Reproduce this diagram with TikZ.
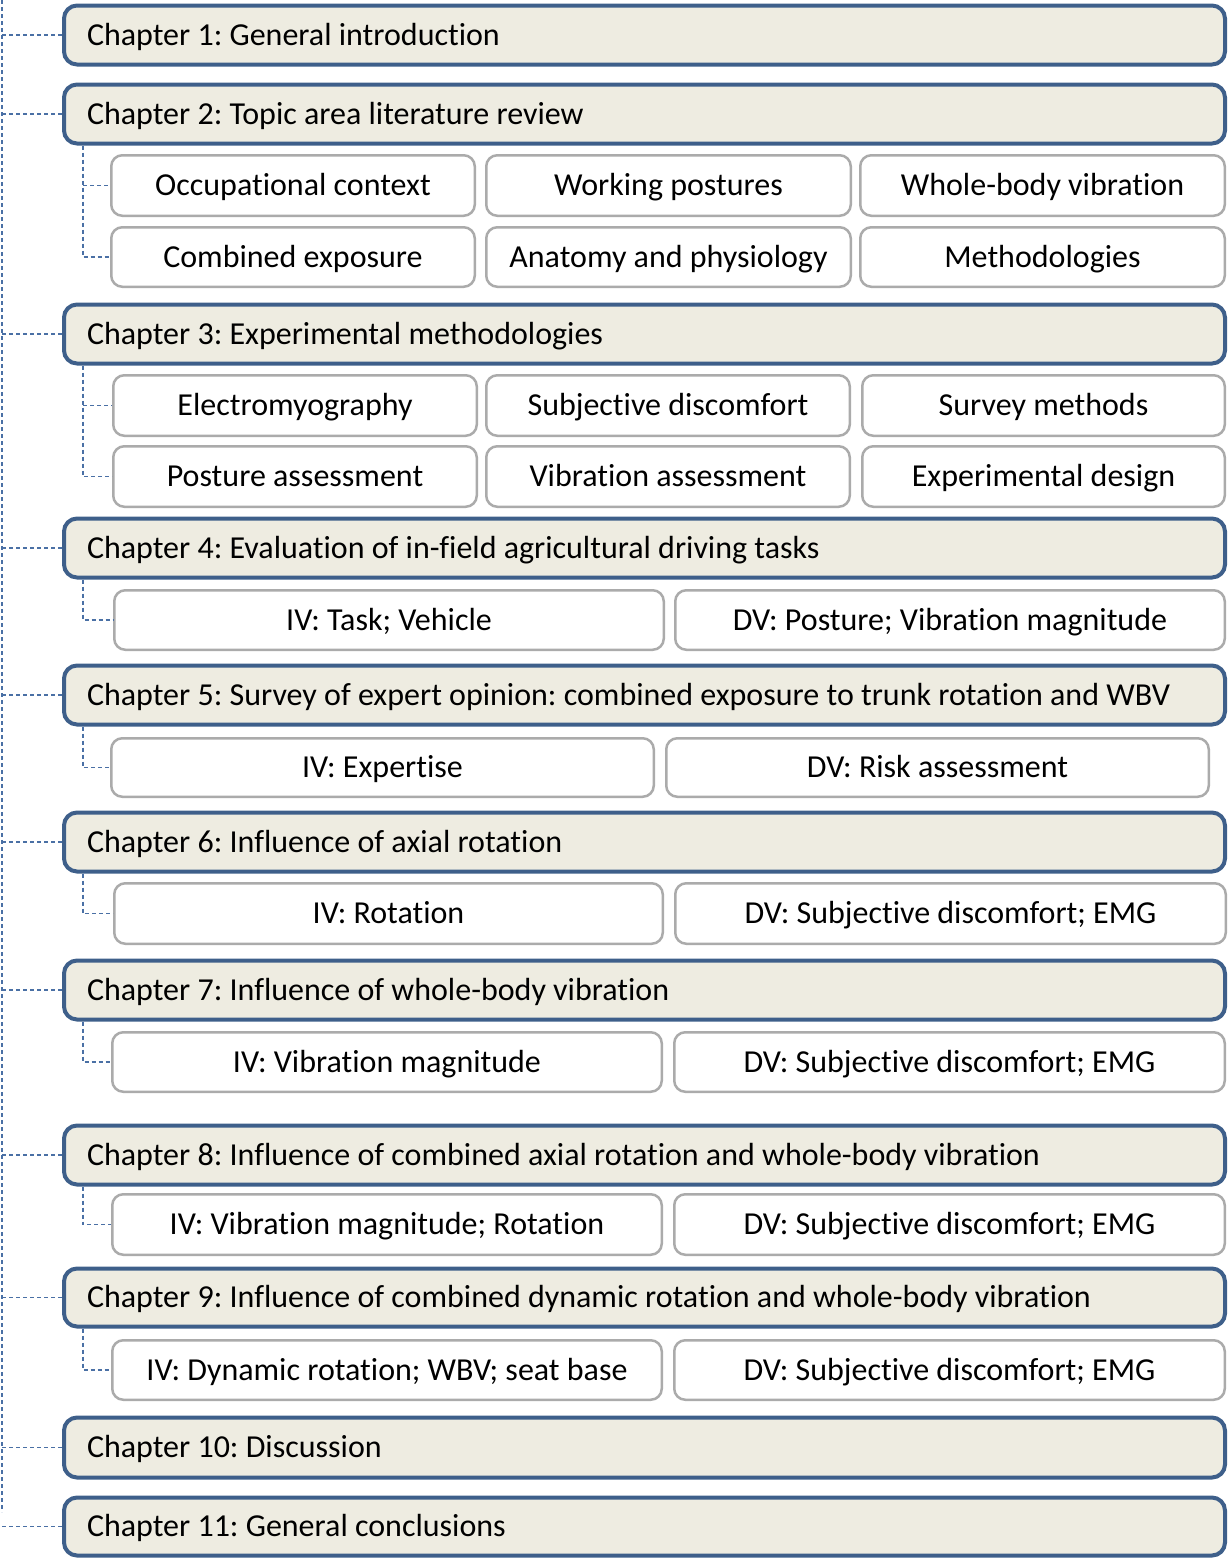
\documentclass[tikz,border=0pt]{standalone}
\usepackage{fontspec}
\setmainfont{Carlito}[RawFeature={-liga}]
\frenchspacing
\definecolor{chapborder}{HTML}{3E5F8A}
\definecolor{chapfill}{HTML}{EEECE1}
\definecolor{subborder}{HTML}{ABABAB}
\definecolor{dashblue}{HTML}{4A70A5}
\tikzset{
  chapbox/.style={draw=chapborder, fill=chapfill, line width=4pt, rounded corners=13pt,
    minimum width=1161pt, inner xsep=23pt,
    text height=20.6pt, text depth=0pt, font=\fontsize{32}{36}\selectfont},
  subbox/.style={draw=subborder, fill=white, line width=2.5pt, rounded corners=11pt,
    align=center, text height=20.6pt, text depth=0pt, inner sep=0pt,
    font=\fontsize{32}{36}\selectfont},
  conn/.style={draw=dashblue, line width=1.25pt, dash pattern=on 4pt off 3pt}
}
\newcommand\chapnode[4]{\node[chapbox, minimum height={(#3-#2-4)*1pt}] (#1) at (644.5,{(#2+#3)/2+0.5}) {\frenchspacing\makebox[1115pt][l]{#4}};}
\newcommand\subnode[6]{\node[subbox, minimum width={(#4-#2-2.5)*1pt}, minimum height={(#5-#3-2.5)*1pt}] (#1) at ({(#2+#4)/2},{(#3+#5)/2}) {\frenchspacing #6};}
\begin{document}
\begin{tikzpicture}[x=1pt,y=-1pt]
\useasboundingbox (0,0) rectangle (1229,1559);
% chapters
\chapnode{c1}{3}{66}{Chapter 1: General introduction}
\chapnode{c2}{82}{145}{Chapter 2: Topic area literature review}
\chapnode{c3}{302}{365}{Chapter 3: Experimental methodologies}
\chapnode{c4}{516}{579}{Chapter 4: Evaluation of in-field agricultural driving tasks}
\chapnode{c5}{663}{726}{Chapter 5: Survey of expert opinion: combined exposure to trunk rotation and WBV}
\chapnode{c6}{810}{873}{Chapter 6: Influence of axial rotation}
\chapnode{c7}{958}{1021}{Chapter 7: Influence of whole-body vibration}
\chapnode{c8}{1123}{1186}{Chapter 8: Influence of combined axial rotation and whole-body vibration}
\chapnode{c9}{1266}{1328}{Chapter 9: Influence of combined dynamic rotation and whole-body vibration}
\chapnode{c10}{1415}{1479}{Chapter 10: Discussion}
\chapnode{c11}{1495}{1557}{Chapter 11: General conclusions}
% chapter 2 subs
\subnode{s2a}{110}{154}{476}{217}{Occupational context}
\subnode{s2b}{485}{154}{852}{217}{Working postures}
\subnode{s2c}{859}{154}{1226}{217}{Whole-body vibration}
\subnode{s2d}{110}{226}{476}{288}{Combined exposure}
\subnode{s2e}{485}{226}{852}{288}{Anatomy and physiology}
\subnode{s2f}{859}{226}{1226}{288}{Methodologies}
% chapter 3 subs
\subnode{s3a}{112}{374}{478}{437}{Electromyography}
\subnode{s3b}{485}{374}{851}{437}{Subjective discomfort}
\subnode{s3c}{861}{374}{1226}{437}{Survey methods}
\subnode{s3d}{112}{445}{478}{508}{Posture assessment}
\subnode{s3e}{485}{445}{851}{508}{Vibration assessment}
\subnode{s3f}{861}{445}{1226}{508}{Experimental design}
% chapter 4-9 subs
\subnode{s4a}{113}{589}{665}{651}{IV: Task; Vehicle}
\subnode{s4b}{674}{589}{1226}{651}{DV: Posture; Vibration magnitude}
\subnode{s5a}{110}{737}{655}{798}{IV: Expertise}
\subnode{s5b}{665}{737}{1210}{798}{DV: Risk assessment}
\subnode{s6a}{113}{882}{664}{945}{IV: Rotation}
\subnode{s6b}{674}{882}{1227}{945}{DV: Subjective discomfort; EMG}
\subnode{s7a}{111}{1031}{663}{1093}{IV: Vibration magnitude}
\subnode{s7b}{673}{1031}{1226}{1093}{DV: Subjective discomfort; EMG}
\subnode{s8a}{111}{1193}{663}{1256}{IV: Vibration magnitude; Rotation}
\subnode{s8b}{673}{1193}{1226}{1256}{DV: Subjective discomfort; EMG}
\subnode{s9a}{111}{1339}{663}{1401}{IV: Dynamic rotation; WBV; seat base}
\subnode{s9b}{673}{1339}{1226}{1401}{DV: Subjective discomfort; EMG}
% main spine
\coordinate (spt) at (2,0);
\coordinate (spb) at (2,1512);
\draw[conn] (spt) -- (spb);
\foreach \c in {c1,c2,c3,c4,c5,c6,c7,c8,c9,c10,c11}
  \draw[conn] (spt |- \c.west) -- (\c.west);
% sub connectors
\coordinate (k) at (83,0);
\draw[conn] (k |- c2.south) |- (s2d.west);
\draw[conn] (k |- s2a.west) -- (s2a.west);
\draw[conn] (k |- c3.south) |- (s3d.west);
\draw[conn] (k |- s3a.west) -- (s3a.west);
\draw[conn] (k |- c4.south) |- (s4a.west);
\draw[conn] (k |- c5.south) |- (s5a.west);
\draw[conn] (k |- c6.south) |- (s6a.west);
\draw[conn] (k |- c7.south) |- (s7a.west);
\draw[conn] (k |- c8.south) |- (s8a.west);
\draw[conn] (k |- c9.south) |- (s9a.west);
\end{tikzpicture}
\end{document}
